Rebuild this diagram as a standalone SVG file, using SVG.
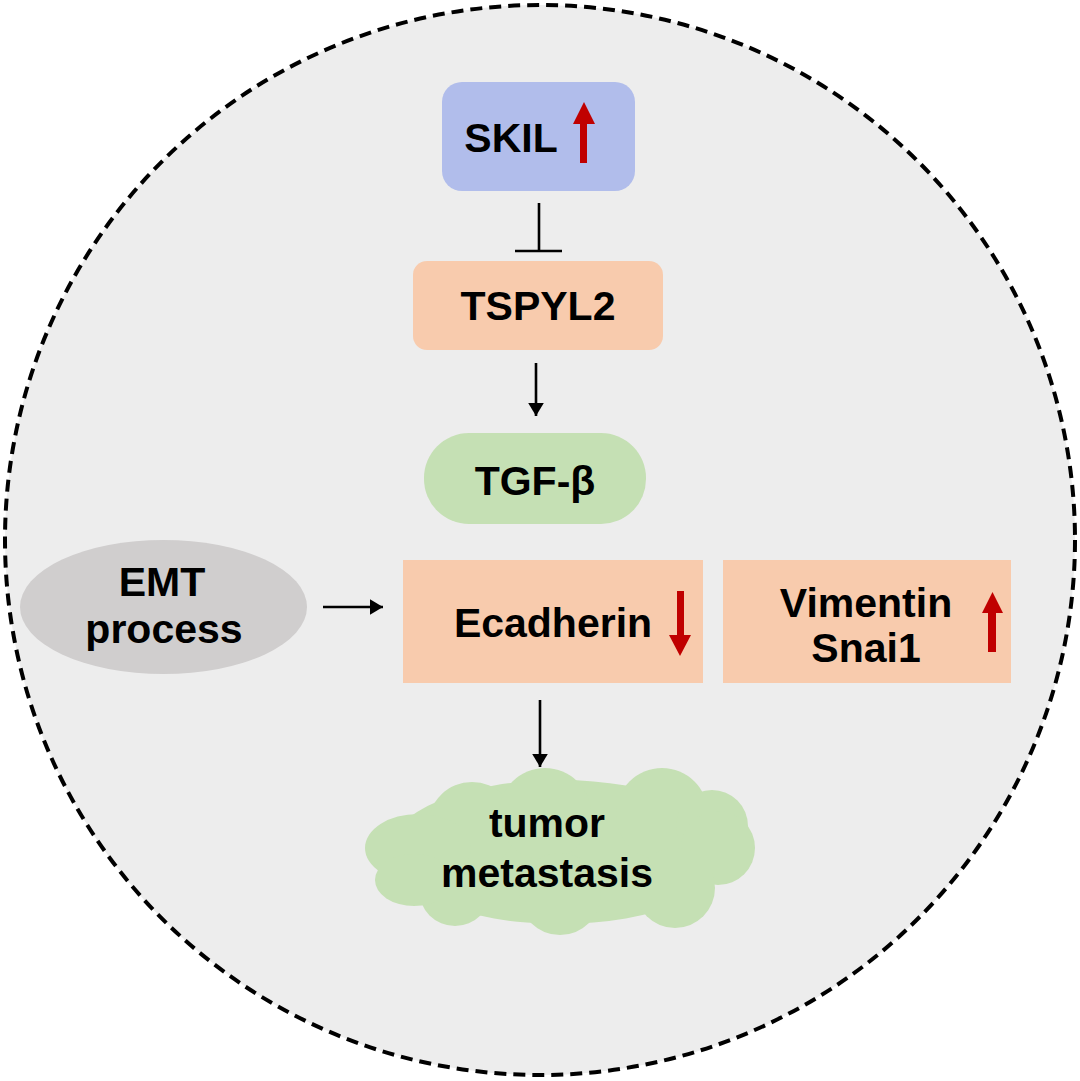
<svg xmlns="http://www.w3.org/2000/svg" width="1080" height="1081" viewBox="0 0 1080 1081">
<style>
text{font-family:"Liberation Sans",Arial,sans-serif;font-weight:bold;font-size:41px;fill:#000;text-anchor:middle}
.conn{stroke:#000;stroke-width:2.6;fill:none}
.red{fill:#c00000}
.peach{fill:#f8cbad}
.green{fill:#c5e0b4}
</style>
<defs>
<marker id="ah" markerWidth="6" markerHeight="6" refX="5" refY="3" orient="auto" markerUnits="strokeWidth">
<path d="M0,0 L5,3 L0,6 Z" fill="#000"/>
</marker>
</defs>
<rect width="1080" height="1081" fill="#fff"/>
<circle id="cell" cx="540" cy="540" r="535" fill="#ededed" stroke="#000" stroke-width="4" stroke-dasharray="12 7"/>

<g id="connectors">
<line class="conn" x1="539" y1="203" x2="539" y2="251"/>
<line class="conn" x1="515" y1="251" x2="562" y2="251"/>
<line class="conn" x1="536" y1="363" x2="536" y2="416" marker-end="url(#ah)"/>
<line class="conn" x1="323" y1="607" x2="383" y2="607" marker-end="url(#ah)"/>
<line class="conn" x1="540" y1="700" x2="540" y2="767" marker-end="url(#ah)"/>
</g>

<g id="skil">
<rect x="442" y="82" width="193" height="109" rx="20" fill="#b1bdeb"/>
<text x="511" y="152">SKIL</text>
<path class="red" d="M580,163 L580,124 L573,124 L584,102 L595,124 L587,124 L587,163 Z"/>
</g>

<g id="tspyl2">
<rect class="peach" x="413" y="261" width="250" height="89" rx="14"/>
<text x="538" y="320">TSPYL2</text>
</g>

<g id="tgfb">
<rect class="green" x="424" y="433" width="222" height="91" rx="45"/>
<text x="535" y="495">TGF-β</text>
</g>

<g id="emt">
<ellipse cx="163.5" cy="607" rx="143.5" ry="67" fill="#d0cece"/>
<text x="162" y="596">EMT</text>
<text x="164" y="643">process</text>
</g>

<g id="ecadherin">
<rect class="peach" x="403" y="560" width="300" height="123"/>
<text x="553" y="637">Ecadherin</text>
<path class="red" d="M677,591 L684,591 L684,635 L691,635 L680,656 L669,635 L677,635 Z"/>
</g>

<g id="vimentin">
<rect class="peach" x="723" y="560" width="288" height="123"/>
<text x="866" y="617">Vimentin</text>
<text x="866" y="662">Snai1</text>
<path class="red" d="M988,652 L988,613 L982,613 L992.5,592 L1003,613 L996,613 L996,652 Z"/>
</g>

<g id="metastasis">
<g class="green">
<ellipse cx="560" cy="852" rx="172" ry="72"/>
<circle cx="472" cy="826" r="44"/>
<circle cx="545" cy="814" r="46"/>
<circle cx="662" cy="814" r="46"/>
<circle cx="712" cy="826" r="36"/>
<circle cx="718" cy="848" r="37"/>
<circle cx="675" cy="888" r="40"/>
<circle cx="560" cy="894" r="41"/>
<circle cx="455" cy="890" r="36"/>
<ellipse cx="418" cy="848" rx="53" ry="34"/>
<ellipse cx="414" cy="880" rx="39" ry="26"/>
</g>
<text x="547" y="837">tumor</text>
<text x="547" y="887">metastasis</text>
</g>
</svg>
